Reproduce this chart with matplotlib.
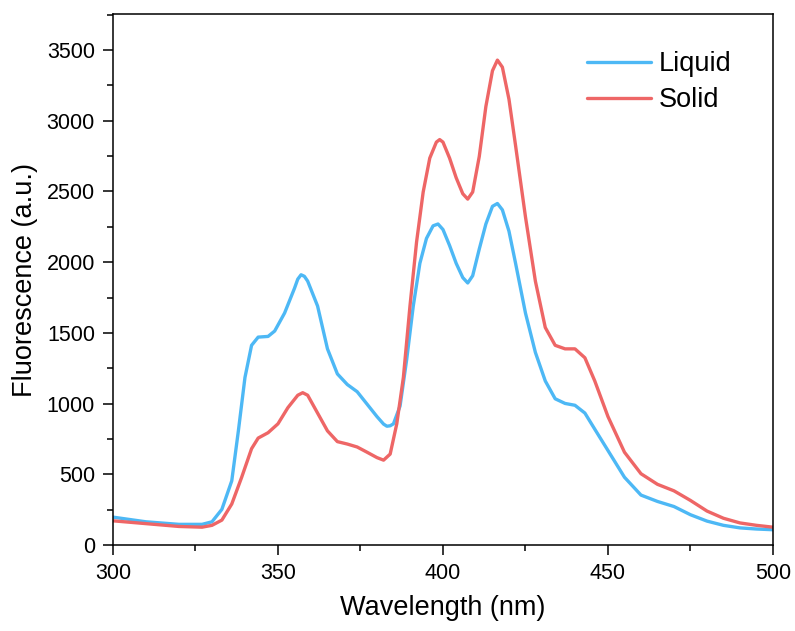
import numpy as np
import matplotlib
matplotlib.use('Agg')
import matplotlib.pyplot as plt
from matplotlib.ticker import MultipleLocator

plt.rcParams['font.family'] = ['Liberation Sans', 'DejaVu Sans']

# values
wl_liquid = [300, 310, 320, 327, 330, 333, 336, 338, 340, 342, 344, 347, 349, 352,
             355, 356, 357, 358, 359, 362, 365, 368, 371, 374, 377, 380, 382, 383, 384,
             385, 387, 389, 391, 393, 395, 397, 398.5, 400, 402, 404, 406, 407.5, 409,
             411, 413, 415, 416.5, 418, 420, 422, 425, 428, 431, 434, 437, 440, 443,
             446, 450, 455, 460, 465, 470, 475, 480, 485, 490, 495, 500]
liquid = [197, 164, 146, 146, 164, 252, 454, 807, 1185, 1412, 1470, 1475, 1513, 1640,
          1815, 1880, 1911, 1900, 1866, 1690, 1387, 1210, 1135, 1084, 996, 908, 855, 840, 843,
          857, 983, 1311, 1690, 1992, 2168, 2257, 2270, 2231, 2118, 1992, 1891, 1853, 1904,
          2093, 2270, 2395, 2415, 2370, 2219, 1992, 1640, 1362, 1160, 1034, 1001, 988, 933,
          819, 668, 479, 353, 308, 272, 214, 169, 139, 121, 113, 108]

wl_solid = [300, 310, 320, 327, 330, 333, 336, 339, 342, 344, 347, 350, 353, 356,
            357.5, 359, 362, 365, 368, 371, 374, 377, 380, 382, 384, 386, 388, 390,
            392, 394, 396, 398, 399, 400, 402, 404, 406, 407.5, 409, 411, 413, 415,
            416.5, 418, 420, 422, 425, 428, 431, 434, 437, 440, 443, 446, 450, 455,
            460, 465, 470, 475, 480, 485, 490, 495, 500]
solid = [171, 151, 131, 126, 139, 176, 290, 479, 681, 756, 794, 857, 971, 1059,
         1077, 1059, 933, 807, 731, 714, 693, 656, 618, 600, 643, 857, 1185, 1690,
         2143, 2496, 2736, 2849, 2867, 2849, 2736, 2597, 2484, 2446, 2496, 2748, 3101, 3354,
         3429, 3379, 3152, 2824, 2320, 1866, 1538, 1412, 1387, 1387, 1324, 1160, 908, 656,
         504, 429, 383, 315, 240, 189, 156, 139, 126]

fig = plt.figure(figsize=(7.95, 6.31), dpi=100)
ax = fig.add_axes([0.1421, 0.1363, 0.8302, 0.8415])

ax.plot(wl_liquid, liquid, color='#4db8f5', lw=2.4, label='Liquid',
        solid_joinstyle='round', solid_capstyle='round')
ax.plot(wl_solid, solid, color='#ee6666', lw=2.4, label='Solid',
        solid_joinstyle='round', solid_capstyle='round')

ax.set_xlim(300, 500)
ax.set_ylim(0, 3755)
ax.xaxis.set_major_locator(MultipleLocator(50))
ax.xaxis.set_minor_locator(MultipleLocator(25))
ax.yaxis.set_major_locator(MultipleLocator(500))
ax.yaxis.set_minor_locator(MultipleLocator(250))
ax.tick_params(which='major', direction='out', length=7, width=1.1, labelsize=15.5,
               top=False, right=False, pad=6)
ax.tick_params(which='minor', direction='out', length=4, width=1.1,
               top=False, right=False)
for s in ax.spines.values():
    s.set_linewidth(1.1)

ax.set_xlabel('Wavelength (nm)', fontsize=19.5, labelpad=8)
ax.set_ylabel('Fluorescence (a.u.)', fontsize=19.5, labelpad=6)

ax.legend(loc='upper left', bbox_to_anchor=(0.718, 0.93), frameon=False,
          borderpad=0, borderaxespad=0,
          fontsize=19.5, handlelength=2.35, handletextpad=0.3, labelspacing=0.38)

fig.savefig('out.png', dpi=100)
